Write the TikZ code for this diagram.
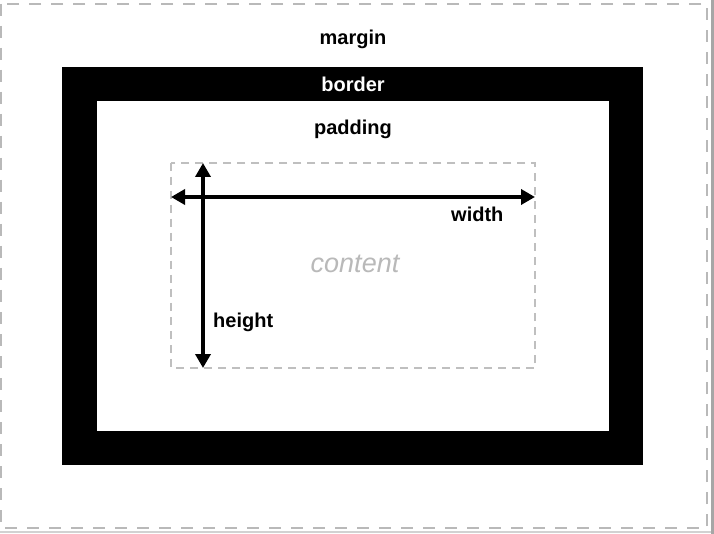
\documentclass[tikz,border=0pt]{standalone}
\usepackage{fontspec}
\setmainfont{Liberation Sans}
\usetikzlibrary{arrows.meta,positioning}

\begin{document}
\begin{tikzpicture}[
      x=1pt,y=-1pt,
      marginline/.style={
         draw=gray!55,
         line width=2pt,
         dash pattern=on 12pt off 10pt},
      contentline/.style={
         draw=gray!50,
         line width=1.4pt,
         dash pattern=on 8pt off 6pt},
      boxlabel/.style={
         anchor=base,
         inner sep=0pt,
         font=\fontsize{20}{23}\selectfont\bfseries},
      dimarrow/.style={
         line width=3.5pt,
         {Triangle[length=14pt,width=15pt]}-{Triangle[length=14pt,width=15pt]}}
      ]
      \useasboundingbox (0,0) rectangle (714,534);
      \fill[white] (0,0) rectangle (714,534);

      % margin, border and content boxes
      \draw[marginline] (1,4) rectangle (707,528);
      \fill[black] (62,67) rectangle (643,465);
      \fill[white] (97,101) rectangle (609,431);
      \draw[contentline] (171,163) rectangle (535,368);

      % frame of the screenshot
      \draw[gray!70, line width=2.5pt] (712.5,0) -- (712.5,534);
      \draw[gray!35, line width=1.5pt] (0,532) -- (711,532);

      \coordinate (wleft)  at (171,197);
      \coordinate (wright) at (535,197);
      \coordinate (htop)   at (203,163);
      \coordinate (hbot)   at (203,368);

      \node[boxlabel] (margin)  at (353,45)   {margin};
      \node[boxlabel,text=white] (border) at (353,91.5) {border};
      \node[boxlabel] (padding) at (353,135)  {padding};
      \node[boxlabel,anchor=base west] (width)  at (451,221.5) {width};
      \node[boxlabel,anchor=base west] (height) at (213,327)   {height};
      \node[anchor=base,inner sep=0pt,text=gray!55,
            font=\fontsize{27}{30}\selectfont\itshape] (content) at (355,273) {content};

      \draw[dimarrow] (wleft) -- (wright);
      \draw[dimarrow] (htop) -- (hbot);
\end{tikzpicture}
\end{document}
